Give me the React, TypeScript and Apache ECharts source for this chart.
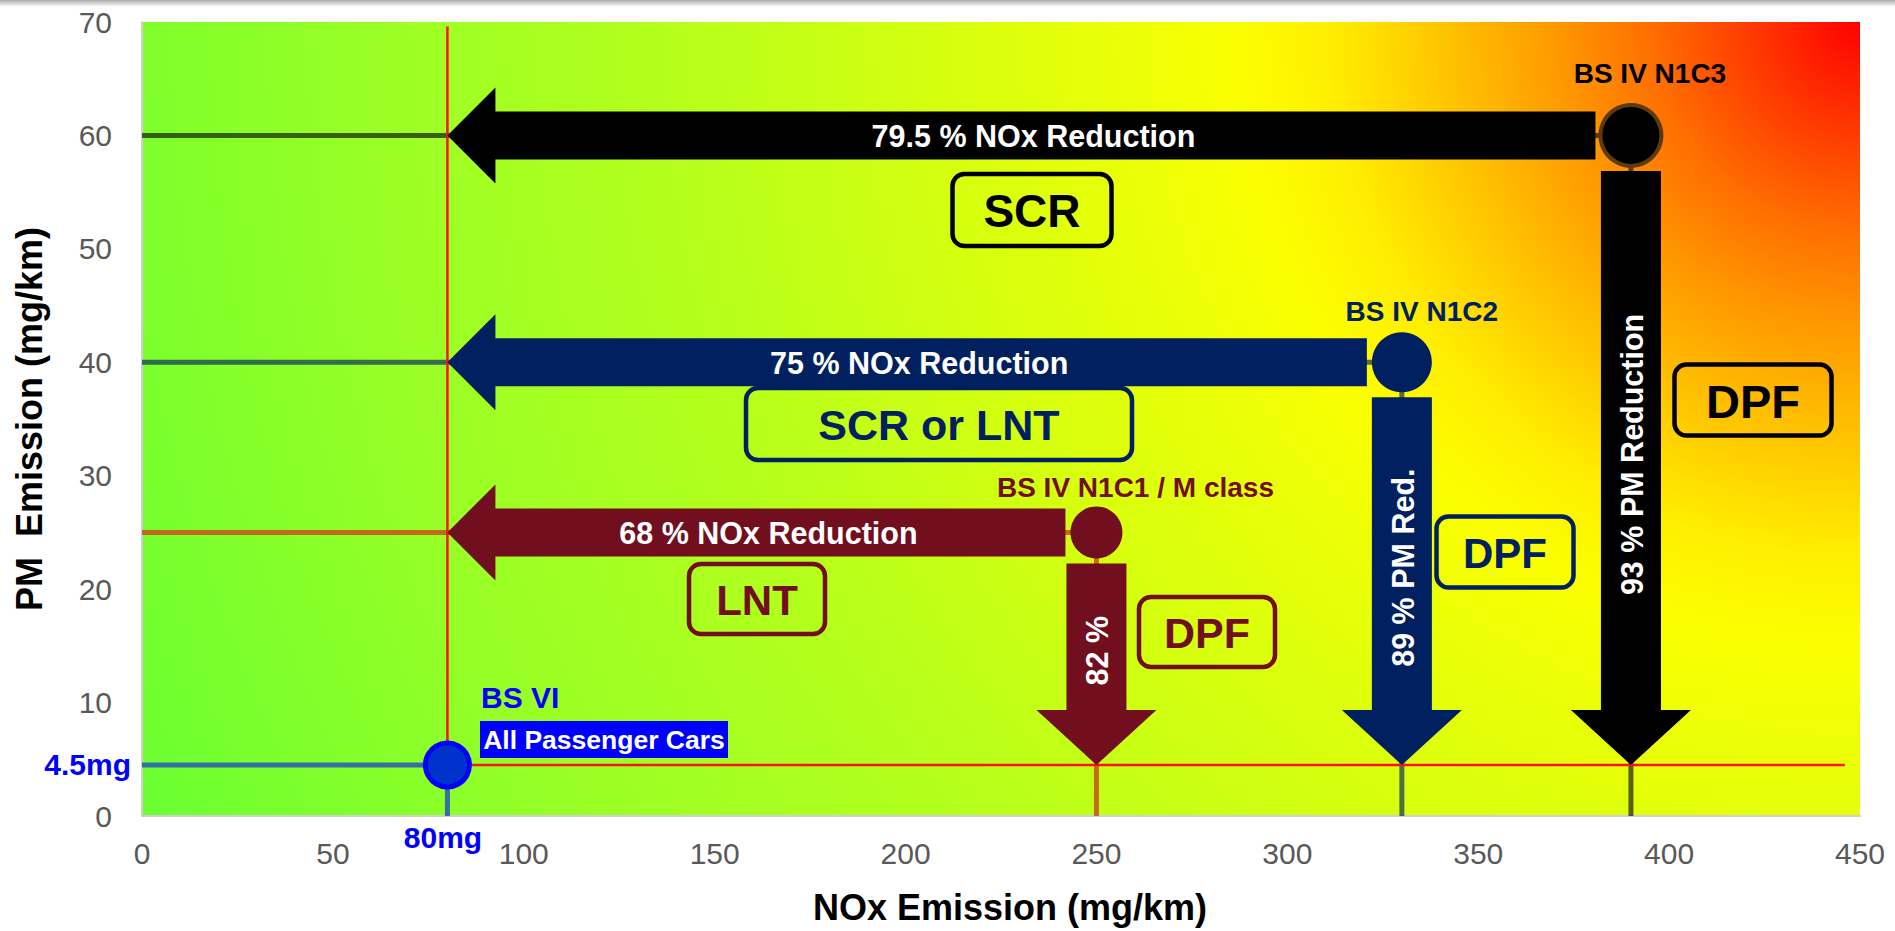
import React, { useEffect, useRef } from "react";
import * as echarts from "echarts";

// ---------------- data ----------------
const xAxisName = "NOx Emission (mg/km)";
const yAxisName = "PM  Emission (mg/km)";

const pointNames = ["BS VI", "BS IV N1C1 / M class", "BS IV N1C2", "BS IV N1C3"];
const noxValues = [80, 250, 330, 390];
const pmValues = [4.5, 25, 40, 60];
const noxReductionLabels = ["", "68 % NOx Reduction", "75 % NOx Reduction", "79.5 % NOx Reduction"];
const pmReductionLabels = ["", "82 %", "89 % PM Red.", "93 % PM Reduction"];
const noxTechnology = ["", "LNT", "SCR or LNT", "SCR"];
const pmTechnology = ["", "DPF", "DPF", "DPF"];
const targetNox = 80;
const targetPm = 4.5;
const targetNoxLabel = "80mg";
const targetPmLabel = "4.5mg";
const targetCaption = "All Passenger Cars";
const guideTopPm = 69.6;
const guideRightNox = 446;

// ---------------- styles ----------------
const NAVY = "#002060";
const MAROON = "#720f1f";
const BLUE = "#0000ff";
const FONT = "'Liberation Sans', Arial, sans-serif";
const pointColors = ["#0033cc", MAROON, NAVY, "#000000"];
const labelColors = [BLUE, MAROON, NAVY, "#000000"];
const symbolSizes = [44, 52, 60, 61];
const dropColors = [
  "rgba(45,95,175,0.9)",
  "rgba(200,90,25,0.9)",
  "rgba(0,32,96,0.65)",
  "rgba(0,0,0,0.62)",
];
const pointLabelOffsets = [
  [0, 0],
  [39, -45],
  [20, -51],
  [19, -62],
];
const noxBoxes = [
  null,
  { cx: 757, cy: 599, w: 136, h: 70, fs: 42 },
  { cx: 939, cy: 424, w: 386, h: 72, fs: 43 },
  { cx: 1032, cy: 210, w: 159, h: 72, fs: 46 },
];
const pmBoxes = [
  null,
  { cx: 1207, cy: 632, w: 136, h: 70, fs: 43 },
  { cx: 1505, cy: 552, w: 137, h: 71, fs: 42 },
  { cx: 1753, cy: 400, w: 157, h: 71, fs: 47 },
];

function hasFont(name: string): boolean {
  try {
    const c = document.createElement("canvas").getContext("2d");
    if (!c) return false;
    const s = "abcdefghijklmnopqrstuvwxyz0123456789%ABCDEFG";
    c.font = "40px monospace";
    const w1 = c.measureText(s).width;
    c.font = `40px "${name}", monospace`;
    const w2 = c.measureText(s).width;
    return Math.abs(w1 - w2) > 0.5;
  } catch (e) {
    return false;
  }
}

function buildOption() {
  const narrow = hasFont("Liberation Sans Narrow");
  const arrowFont = narrow ? "'Liberation Sans Narrow', 'Arial Narrow', sans-serif" : FONT;
  const arrowFontSize = narrow ? 37 : 30.5;
  const captionFontSize = narrow ? 32 : 26.5;

  const arrowData: any[] = [];
  for (let i = 1; i < noxValues.length; i++) {
    arrowData.push({ value: [noxValues[i], pmValues[i], targetNox, pmValues[i], i, 0] });
    arrowData.push({ value: [noxValues[i], pmValues[i], noxValues[i], targetPm, i, 1] });
  }

  const dropSeries = noxValues.map((x, i) => ({
    type: "line",
    z: 2,
    silent: true,
    symbol: "none",
    data: [
      [0, pmValues[i]],
      [x, pmValues[i]],
      [x, 0],
    ],
    lineStyle: { color: dropColors[i], width: 5 },
  }));

  const boxGraphics: any[] = [];
  const addBox = (b: any, text: string, color: string) => {
    boxGraphics.push({
      type: "rect",
      z: 10,
      silent: true,
      shape: { x: b.cx - b.w / 2, y: b.cy - b.h / 2, width: b.w, height: b.h, r: 12 },
      style: { fill: "transparent", stroke: color, lineWidth: 4.5 },
    });
    boxGraphics.push({
      type: "text",
      z: 11,
      silent: true,
      x: b.cx,
      y: b.cy + 1,
      style: {
        text,
        fill: color,
        fontSize: b.fs,
        fontWeight: "bold",
        fontFamily: FONT,
        align: "center",
        verticalAlign: "middle",
        textAlign: "center",
        textVerticalAlign: "middle",
      },
    });
  };
  for (let i = 1; i < noxValues.length; i++) {
    addBox(noxBoxes[i], noxTechnology[i], labelColors[i]);
    addBox(pmBoxes[i], pmTechnology[i], labelColors[i]);
  }

  const textStyle = (text: string, fill: string, fontSize: number, align: string, family = FONT) => ({
    text,
    fill,
    fontSize,
    fontWeight: "bold",
    fontFamily: family,
    align,
    verticalAlign: "middle",
    textAlign: align,
    textVerticalAlign: "middle",
  });

  const otherGraphics: any[] = [
    {
      type: "rect",
      z: 20,
      silent: true,
      shape: { x: 0, y: 0, width: 1895, height: 7 },
      style: {
        fill: new echarts.graphic.LinearGradient(0, 0, 0, 1, [
          { offset: 0, color: "rgba(0,0,0,0.32)" },
          { offset: 1, color: "rgba(0,0,0,0)" },
        ]),
      },
    },
    { type: "text", z: 11, silent: true, x: 481, y: 697, style: textStyle(pointNames[0], BLUE, 30, "left") },
    {
      type: "rect",
      z: 10,
      silent: true,
      shape: { x: 480, y: 721, width: 248, height: 37 },
      style: { fill: BLUE },
    },
    {
      type: "text",
      z: 11,
      silent: true,
      x: 604,
      y: 740,
      style: textStyle(targetCaption, "#ffffff", captionFontSize, "center", arrowFont),
    },
    { type: "text", z: 11, silent: true, x: 131, y: 764, style: textStyle(targetPmLabel, BLUE, 30, "right") },
    { type: "text", z: 11, silent: true, x: 443, y: 837, style: textStyle(targetNoxLabel, BLUE, 30, "center") },
  ];

  return {
    animation: false,
    backgroundColor: "#ffffff",
    grid: {
      left: 142,
      right: 35,
      top: 22,
      bottom: 115,
      show: true,
      borderWidth: 0,
      backgroundColor: {
        type: "radial",
        x: 1861,
        y: 22,
        r: 1900,
        global: true,
        colorStops: [
          { offset: 0, color: "#ff0000" },
          { offset: 0.06, color: "#ff3c00" },
          { offset: 0.11, color: "#ff6e00" },
          { offset: 0.16, color: "#ff9800" },
          { offset: 0.22, color: "#ffc400" },
          { offset: 0.28, color: "#ffee00" },
          { offset: 0.33, color: "#fbff00" },
          { offset: 0.4, color: "#e8ff08" },
          { offset: 0.5, color: "#d2ff10" },
          { offset: 0.63, color: "#b4ff1c" },
          { offset: 0.79, color: "#98ff26" },
          { offset: 0.9, color: "#80ff2a" },
          { offset: 1, color: "#68ff33" },
        ],
      },
    },
    xAxis: {
      type: "value",
      min: 0,
      max: 450,
      interval: 50,
      axisLine: { show: true, lineStyle: { color: "#d0d0d0", width: 2 } },
      axisTick: { show: false },
      splitLine: { show: false },
      axisLabel: { color: "#595959", fontSize: 30, fontFamily: FONT, margin: 22 },
      name: xAxisName,
      nameLocation: "middle",
      nameGap: 73,
      nameTextStyle: {
        color: "#000000",
        fontSize: 36,
        fontWeight: "bold",
        fontFamily: FONT,
        padding: [0, 0, 0, 18],
      },
    },
    yAxis: {
      type: "value",
      min: 0,
      max: 70,
      interval: 10,
      axisLine: { show: true, lineStyle: { color: "#d0d0d0", width: 2 } },
      axisTick: { show: false },
      splitLine: { show: false },
      axisLabel: { color: "#595959", fontSize: 30, fontFamily: FONT, margin: 30 },
      name: yAxisName,
      nameLocation: "middle",
      nameGap: 95,
      nameTextStyle: {
        color: "#000000",
        fontSize: 36,
        fontWeight: "bold",
        fontFamily: FONT,
      },
    },
    series: [
      ...dropSeries,
      {
        type: "line",
        z: 3,
        silent: true,
        symbol: "none",
        data: [
          [targetNox, guideTopPm],
          [targetNox, targetPm],
          [guideRightNox, targetPm],
        ],
        lineStyle: { color: "#ff1020", width: 2.5 },
      },
      {
        type: "custom",
        z: 4,
        silent: true,
        encode: { x: [0, 2], y: [1, 3] },
        data: arrowData,
        renderItem: (params: any, api: any) => {
          const i = api.value(4);
          const dir = api.value(5);
          const p0 = api.coord([api.value(0), api.value(1)]);
          const p1 = api.coord([api.value(2), api.value(3)]);
          const r = symbolSizes[i] / 2;
          const gap = 5;
          const color = pointColors[i];
          if (dir === 0) {
            const tipX = p1[0];
            const y = p1[1];
            const hb = tipX + 48;
            const se = p0[0] - r - gap;
            return {
              type: "group",
              children: [
                {
                  type: "polygon",
                  shape: {
                    points: [
                      [tipX, y],
                      [hb, y - 48],
                      [hb, y - 24],
                      [se, y - 24],
                      [se, y + 24],
                      [hb, y + 24],
                      [hb, y + 48],
                    ],
                  },
                  style: { fill: color },
                },
                {
                  type: "text",
                  x: (hb + se) / 2 - 12,
                  y: y + 1,
                  style: {
                    text: noxReductionLabels[i],
                    fill: "#ffffff",
                    fontSize: arrowFontSize,
                    fontWeight: "bold",
                    fontFamily: arrowFont,
                    align: "center",
                    verticalAlign: "middle",
                  },
                },
              ],
            };
          }
          const x = p1[0];
          const tipY = p1[1];
          const hb = tipY - 55;
          const st = p0[1] + r + gap;
          return {
            type: "group",
            children: [
              {
                type: "polygon",
                shape: {
                  points: [
                    [x, tipY],
                    [x - 60, hb],
                    [x - 30, hb],
                    [x - 30, st],
                    [x + 30, st],
                    [x + 30, hb],
                    [x + 60, hb],
                  ],
                },
                style: { fill: color },
              },
              {
                type: "text",
                x: x + 1,
                y: (st + hb) / 2 + 14,
                rotation: Math.PI / 2,
                style: {
                  text: pmReductionLabels[i],
                  fill: "#ffffff",
                  fontSize: arrowFontSize,
                  fontWeight: "bold",
                  fontFamily: arrowFont,
                  align: "center",
                  verticalAlign: "middle",
                },
              },
            ],
          };
        },
      },
      {
        type: "scatter",
        z: 5,
        silent: true,
        data: noxValues.map((x, i) => ({
          value: [x, pmValues[i]],
          symbolSize: symbolSizes[i],
          itemStyle: {
            color: pointColors[i],
            opacity: 1,
            borderColor: i === 0 ? BLUE : i === 3 ? "#5e3a10" : pointColors[i],
            borderWidth: i === 0 ? 5 : i === 3 ? 4 : 0,
          },
          label:
            i === 0
              ? { show: false }
              : {
                  show: true,
                  position: "inside",
                  offset: pointLabelOffsets[i],
                  formatter: pointNames[i],
                  color: labelColors[i],
                  fontSize: 28,
                  fontWeight: "bold",
                  fontFamily: FONT,
                },
        })),
      },
    ],
    graphic: { elements: [...boxGraphics, ...otherGraphics] },
  };
}

export default function App() {
  const ref = useRef<HTMLDivElement>(null);
  useEffect(() => {
    if (!ref.current) return;
    const chart = echarts.init(ref.current, null, { renderer: "svg" });
    chart.setOption(buildOption() as any);
    return () => chart.dispose();
  }, []);
  return (
    <div
      ref={ref}
      style={{ position: "fixed", left: 0, top: 0, width: 1895, height: 931, background: "#fff" }}
    />
  );
}
